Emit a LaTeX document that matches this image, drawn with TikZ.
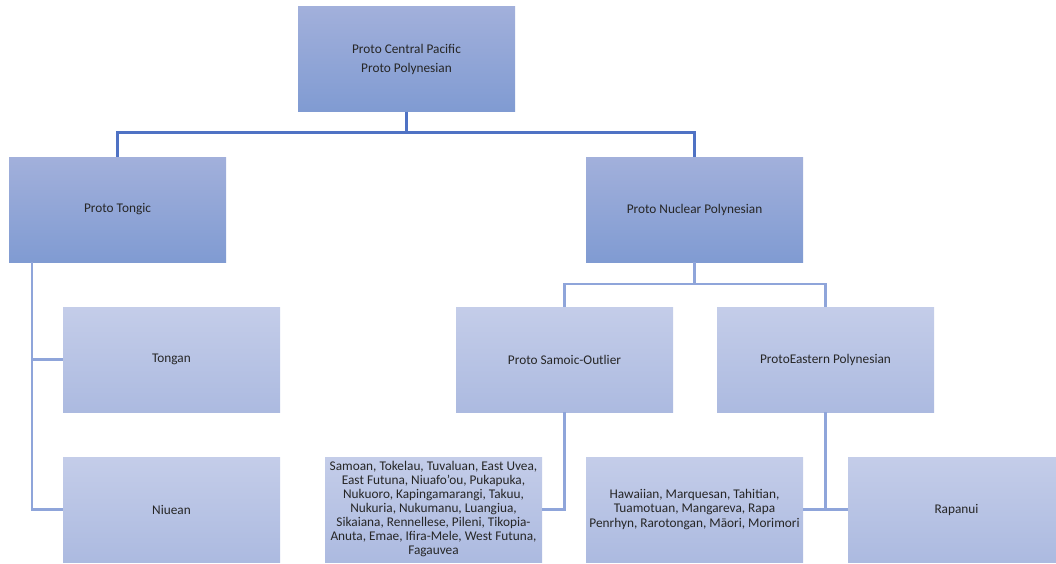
\documentclass[tikz,border=0pt]{standalone}
\usepackage{fontspec}
\setmainfont{Carlito}

\begin{document}
\begin{tikzpicture}[x=1pt, y=-1pt,
  every node/.style={rectangle, minimum width=217pt, minimum height=105pt, inner sep=2pt,
    align=center, text=black!85, font=\fontsize{13.3}{16}\selectfont},
  upper/.style={top color={rgb,255:red,162;green,176;blue,219}, bottom color={rgb,255:red,128;green,155;blue,210}},
  lower/.style={top color={rgb,255:red,196;green,205;blue,233}, bottom color={rgb,255:red,172;green,186;blue,224}},
  mainline/.style={draw={rgb,255:red,79;green,114;blue,196}, line width=2.5pt},
  subline/.style={draw={rgb,255:red,143;green,165;blue,218}, line width=2.5pt}]
\useasboundingbox (0,0) rectangle (1056,563);
\node[upper, font=\fontsize{13.3}{19}\selectfont] (PCP) at (406.5, 59) {Proto Central Pacific\\Proto Polynesian};
\node[upper] (PT) at (117.5, 209.5) {Proto Tongic};
\node[upper] (PNP) at (694.5, 209.5) {Proto Nuclear Polynesian};
\node[lower] (TON) at (171.5, 359.5) {Tongan};
\node[lower] (NIU) at (171.5, 509.5) {Niuean};
\node[lower] (PSO) at (564.5, 359.5) {Proto Samoic-Outlier};
\node[lower] (PEP) at (825.5, 359.5) {ProtoEastern Polynesian};
\node[lower, font=\fontsize{13.3}{14}\selectfont] (SAM) at (433.5, 509.5)
  {Samoan, Tokelau, Tuvaluan, East Uvea,\\East Futuna, Niuafo’ou, Pukapuka,\\Nukuoro, Kapingamarangi, Takuu,\\Nukuria, Nukumanu, Luangiua,\\Sikaiana, Rennellese, Pileni, Tikopia-\\Anuta, Emae, Ifira-Mele, West Futuna,\\Fagauvea};
\node[lower, font=\fontsize{13.3}{14.2}\selectfont] (HAW) at (694.5, 509.5)
  {Hawaiian, Marquesan, Tahitian,\\Tuamotuan, Mangareva, Rapa\\Penrhyn, Rarotongan, Māori, Morimori};
\node[lower] (RAP) at (956.5, 509.5) {Rapanui};
% top level
\draw[mainline] (PCP.south) -- ++(0,21) -| (PT.north);
\draw[mainline] (PCP.south) -- ++(0,21) -| (PNP.north);
% tongic branch
\draw[subline] (PT.south west) ++(23,0) |- (TON.west);
\draw[subline] (PT.south west) ++(23,0) |- (NIU.west);
% nuclear branch
\draw[subline] (PNP.south) -- ++(0,22) -| (PSO.north);
\draw[subline] (PNP.south) -- ++(0,22) -| (PEP.north);
\draw[subline] (PSO.south) |- (SAM.east);
\draw[subline] (PEP.south) |- (HAW.east);
\draw[subline] (PEP.south) |- (RAP.west);
\end{tikzpicture}
\end{document}
